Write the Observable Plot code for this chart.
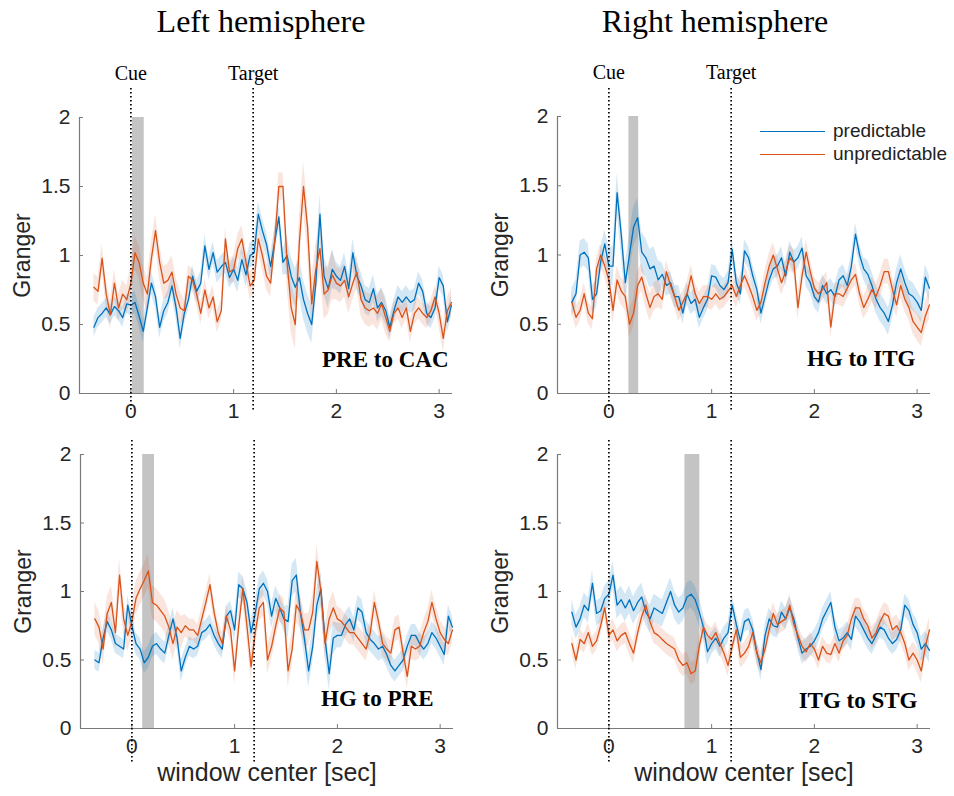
<!DOCTYPE html>
<html><head><meta charset="utf-8">
<script src="https://cdn.jsdelivr.net/npm/d3@7"></script>
<script src="https://cdn.jsdelivr.net/npm/@observablehq/plot@0.6"></script>
<style>
body{margin:0;background:#fff;}
#root{position:relative;width:954px;height:796px;overflow:hidden;background:#fff;font-family:"Liberation Sans",Arial,sans-serif;}
.panel{position:absolute;}
.title{position:absolute;top:5px;font-family:"Liberation Serif",serif;font-size:32px;line-height:1;color:#000;transform:translateX(-50%);white-space:nowrap;}
.leg{position:absolute;font-size:19px;line-height:1;color:#222;white-space:nowrap;}
.leg .sw{position:absolute;left:0;width:65px;height:0;border-top:1.3px solid;}
.leg span{position:absolute;left:73px;top:-10px;}
</style></head>
<body><div id="root"></div>
<script>
// ---- data ----
const times = d3.range(88).map(i => Math.round((-0.36 + 0.04 * i) * 100) / 100);
const xTicks = [0, 1, 2, 3];
const yTicks = [0, 0.5, 1, 1.5, 2];
const eventTimes = [0, 1.19];
const eventLabels = ["Cue", "Target"];
const seriesNames = ["predictable", "unpredictable"];
const panelNames = ["PRE to CAC", "HG to ITG", "HG to PRE", "ITG to STG"];
const hemispheres = ["Left hemisphere", "Right hemisphere"];
const sigStart = [0.015, 0.195, 0.105, 0.74];
const sigEnd = [0.13, 0.29, 0.22, 0.885];

const tlPred = [0.48,0.55,0.58,0.62,0.57,0.63,0.60,0.55,0.65,0.64,
0.66,0.56,0.45,0.62,0.80,0.70,0.48,0.60,0.66,0.78,
0.62,0.40,0.58,0.68,0.85,0.74,0.80,1.07,0.90,1.02,
0.88,0.92,0.95,0.84,0.90,0.82,0.97,0.86,1.00,1.02,
1.30,1.18,1.08,0.92,1.10,1.28,0.95,1.00,0.85,0.77,
0.84,0.68,0.58,0.50,0.80,1.30,0.85,0.76,0.90,0.85,
0.82,0.92,0.76,1.02,0.85,0.78,0.68,0.66,0.76,0.62,
0.66,0.60,0.48,0.60,0.70,0.66,0.70,0.66,0.68,0.80,
0.74,0.58,0.55,0.62,0.84,0.78,0.52,0.64];
const tlUnpred = [0.77,0.74,0.98,0.72,0.57,0.80,0.62,0.72,0.68,0.80,
1.02,0.95,0.80,0.72,0.98,1.18,0.95,0.80,0.82,0.88,
0.72,0.62,0.60,0.85,0.82,0.72,0.58,0.75,0.62,0.70,
0.52,0.60,1.12,0.88,0.90,1.05,1.12,0.95,0.78,0.82,
1.12,1.00,0.85,0.80,1.10,1.50,1.50,0.95,0.62,0.50,
1.10,1.50,1.20,0.65,0.90,1.05,0.72,0.75,0.86,0.80,
0.78,0.82,0.70,0.80,0.88,0.68,0.62,0.60,0.62,0.58,
0.65,0.55,0.45,0.58,0.62,0.55,0.62,0.45,0.58,0.62,
0.58,0.55,0.60,0.70,0.58,0.40,0.60,0.66];
const trPred = [0.66,0.72,1.00,1.02,0.98,0.68,0.72,0.95,1.08,0.92,
0.92,1.45,1.15,0.80,1.00,1.20,1.27,1.02,0.98,0.90,
0.92,0.82,0.86,0.78,0.80,0.70,0.70,0.58,0.72,0.65,
0.68,0.55,0.62,0.68,0.85,0.84,0.78,0.75,0.80,1.04,
0.80,0.72,1.03,0.98,0.85,0.75,0.58,0.70,0.82,0.90,
0.92,0.98,0.85,1.02,0.95,0.98,1.05,0.85,0.80,0.70,
0.66,0.78,0.72,0.75,0.70,0.82,0.85,0.78,0.92,1.15,
1.00,0.90,0.86,0.78,0.68,0.62,0.58,0.52,0.64,0.80,
0.90,0.80,0.72,0.70,0.66,0.60,0.84,0.76];
const trUnpred = [0.66,0.55,0.60,0.72,0.58,0.54,0.90,1.00,0.92,0.82,
0.60,0.82,0.74,0.70,0.50,0.58,0.78,0.84,0.72,0.62,
0.70,0.72,0.68,0.88,0.78,0.70,0.60,0.66,0.72,0.85,
0.72,0.65,0.70,0.70,0.68,0.72,0.68,0.70,0.74,0.78,
0.70,0.78,0.85,0.78,0.70,0.60,0.66,0.80,0.92,1.00,
0.90,0.80,0.88,0.98,0.95,0.62,0.85,1.02,0.88,0.76,
0.72,0.75,0.80,0.48,0.72,0.72,0.70,0.76,0.82,0.86,
0.72,0.62,0.68,0.75,0.70,0.78,0.88,0.88,0.75,0.64,
0.78,0.68,0.62,0.52,0.48,0.44,0.56,0.64];
const blPred = [0.50,0.48,0.66,0.78,0.72,0.62,0.60,0.58,0.90,0.75,
0.62,0.58,0.48,0.52,0.60,0.62,0.58,0.55,0.68,0.80,
0.66,0.42,0.52,0.60,0.58,0.60,0.70,0.72,0.76,0.68,
0.62,0.58,0.82,0.86,0.72,1.05,1.02,0.92,0.70,0.84,
1.02,1.06,1.00,0.82,0.95,0.88,0.80,0.78,1.08,1.12,
0.85,0.65,0.42,0.60,0.90,1.02,0.65,0.40,0.66,0.68,
0.68,0.76,0.80,0.72,0.88,0.85,0.70,0.65,0.62,0.58,
0.60,0.54,0.46,0.42,0.46,0.50,0.60,0.68,0.68,0.62,
0.58,0.62,0.70,0.66,0.60,0.54,0.82,0.74];
const blUnpred = [0.80,0.74,0.58,0.84,0.92,0.70,1.12,0.80,0.68,0.78,
0.95,1.02,1.08,1.15,0.92,0.90,0.86,0.82,0.74,0.62,
0.74,0.70,0.75,0.72,0.72,0.68,0.80,0.92,1.05,0.85,
0.70,0.62,0.82,0.72,0.42,0.75,1.02,0.75,0.45,0.70,
0.88,0.92,0.50,0.60,0.75,0.88,0.85,0.42,0.58,0.90,
0.85,0.72,0.72,0.85,1.22,1.00,0.62,0.80,0.88,0.80,
0.78,0.74,0.70,0.70,0.66,0.62,0.58,0.70,0.92,0.78,
0.62,0.58,0.55,0.72,0.74,0.55,0.38,0.60,0.58,0.60,
0.70,0.78,0.92,0.80,0.70,0.65,0.62,0.72];
const brPred = [0.85,0.74,0.80,0.90,0.86,1.06,0.84,0.86,0.95,0.98,
1.12,0.90,0.94,0.88,0.94,0.86,0.92,0.96,0.85,0.80,
0.88,0.86,0.84,0.92,1.00,0.90,0.85,0.88,0.96,0.98,
0.94,0.85,0.74,0.56,0.62,0.66,0.60,0.66,0.70,0.90,
0.76,0.64,0.78,0.80,0.72,0.56,0.43,0.68,0.80,0.75,
0.74,0.85,0.80,0.88,0.80,0.66,0.55,0.58,0.60,0.64,
0.70,0.80,0.86,0.92,0.74,0.64,0.66,0.70,0.65,0.82,
0.78,0.72,0.66,0.62,0.68,0.74,0.72,0.66,0.62,0.65,
0.72,0.90,0.86,0.76,0.70,0.58,0.62,0.57];
const brUnpred = [0.62,0.50,0.65,0.62,0.70,0.60,0.64,0.75,0.88,0.68,
0.72,0.64,0.68,0.70,0.62,0.55,0.70,0.82,0.90,0.78,
0.70,0.68,0.65,0.62,0.60,0.58,0.50,0.46,0.48,0.40,
0.42,0.60,0.74,0.68,0.65,0.70,0.62,0.55,0.46,0.60,
0.72,0.52,0.55,0.60,0.70,0.55,0.48,0.58,0.72,0.84,
0.76,0.78,0.80,0.90,0.76,0.68,0.60,0.56,0.62,0.58,
0.50,0.60,0.55,0.54,0.62,0.55,0.64,0.68,0.80,0.88,
0.88,0.80,0.75,0.66,0.70,0.78,0.84,0.82,0.72,0.75,
0.70,0.62,0.50,0.55,0.50,0.42,0.60,0.72];

// half-widths of the shaded error bands, one per half-second bin (-0.5..3.5)
const tlPredErr = [0.07,0.08,0.08,0.09,0.14,0.10,0.08,0.08];
const tlUnpredErr = [0.10,0.12,0.08,0.10,0.18,0.12,0.08,0.10];
const trPredErr = [0.10,0.14,0.08,0.08,0.08,0.08,0.10,0.09];
const trUnpredErr = [0.08,0.10,0.08,0.08,0.09,0.08,0.09,0.10];
const blPredErr = [0.07,0.08,0.07,0.09,0.12,0.09,0.08,0.08];
const blUnpredErr = [0.12,0.12,0.08,0.10,0.12,0.09,0.09,0.09];
const brPredErr = [0.09,0.10,0.10,0.08,0.08,0.08,0.08,0.09];
const brUnpredErr = [0.07,0.08,0.08,0.08,0.08,0.07,0.08,0.09];

// ---- drawing ----
const BLUE = "#0072BD", ORANGE = "#D95319";
const AXIS = "#7a7a7a";
const SERIF = "'Liberation Serif', 'Times New Roman', serif";
const xDomain = [-0.5, 3.13];
const bin = t => Math.max(0, Math.min(7, Math.floor((t + 0.5) / 0.5)));
const rowsOf = (vals, err) => times.map((t, i) => ({t, v: vals[i], lo: vals[i] - err[bin(t)], hi: vals[i] + err[bin(t)]}));

const layouts = [
  {left: 0, top: 60, width: 470, height: 370, ml: 79, mr: 18, mt: 57, mb: 37, top0: true, lx: -4, ly: -27, insT: -29, insB: -19},
  {left: 478, top: 60, width: 476, height: 370, ml: 79, mr: 24, mt: 56, mb: 37, top0: true, lx: -15, ly: -28, insT: -28, insB: -19},
  {left: 0, top: 430, width: 470, height: 366, ml: 80, mr: 17, mt: 24, mb: 68, top0: false, lx: -20, ly: -23, insT: -14, insB: -36},
  {left: 478, top: 430, width: 476, height: 366, ml: 79, mr: 24, mt: 24, mb: 68, top0: false, lx: -13, ly: -21, insT: -14, insB: -36}
];
const seriesData = [
  [tlPred, tlPredErr, tlUnpred, tlUnpredErr],
  [trPred, trPredErr, trUnpred, trUnpredErr],
  [blPred, blPredErr, blUnpred, blUnpredErr],
  [brPred, brPredErr, brUnpred, brUnpredErr]
];

const root = document.getElementById("root");

layouts.forEach((L, k) => {
  const [p, pe, u, ue] = seriesData[k];
  const pr = rowsOf(p, pe), ur = rowsOf(u, ue);
  const events = eventTimes.map((t, i) => ({t, label: eventLabels[i]}));
  const marks = [
    Plot.rect([{a: sigStart[k], b: sigEnd[k]}], {x1: "a", x2: "b", y1: 0, y2: 2, fill: "#c4c4c4"}),
    Plot.areaY(pr, {x: "t", y1: "lo", y2: "hi", fill: BLUE, fillOpacity: 0.17}),
    Plot.areaY(ur, {x: "t", y1: "lo", y2: "hi", fill: ORANGE, fillOpacity: 0.15}),
    Plot.line(pr, {x: "t", y: "v", stroke: BLUE, strokeWidth: 1.3}),
    Plot.line(ur, {x: "t", y: "v", stroke: ORANGE, strokeWidth: 1.3}),
    Plot.ruleY([0], {stroke: AXIS, strokeWidth: 1.2}),
    Plot.ruleX([xDomain[0]], {stroke: AXIS, strokeWidth: 1.2}),
    Plot.axisX({ticks: xTicks, tickSize: -4, tickPadding: 14, stroke: AXIS, tickFormat: d => String(d), fontSize: 21, fill: "#262626", label: null}),
    Plot.axisY({ticks: yTicks, tickSize: -4, tickPadding: 13, stroke: AXIS, tickFormat: d => String(d), fontSize: 21, fill: "#262626", label: null}),
    Plot.ruleX(events, {x: "t", stroke: "#000", strokeWidth: 1.7, strokeDasharray: "1.5,2.5", insetTop: L.insT, insetBottom: L.insB}),
    Plot.text(["Granger"], {frameAnchor: "left", textAnchor: "middle", lineAnchor: "middle", rotate: -90, dx: -57, fontSize: 23, fill: "#262626"}),
    Plot.text([panelNames[k]], {frameAnchor: "bottom-right", textAnchor: "end", dx: L.lx, dy: L.ly, fontFamily: SERIF, fontWeight: "bold", fontSize: 23, fill: "#000"})
  ];
  if (L.top0) {
    marks.push(Plot.text(events, {x: "t", text: "label", frameAnchor: "top", dy: -52, fontFamily: SERIF, fontSize: 20, fill: "#000"}));
  } else {
    marks.push(Plot.text(["window center [sec]"], {frameAnchor: "bottom", dy: 52, fontSize: 25, fill: "#262626"}));
  }
  const chart = Plot.plot({
    width: L.width, height: L.height,
    marginLeft: L.ml, marginRight: L.mr, marginTop: L.mt, marginBottom: L.mb,
    x: {domain: xDomain},
    y: {domain: [0, 2]},
    style: {fontFamily: "'Liberation Sans', Arial, sans-serif", fontSize: "21px", color: "#262626", background: "transparent", overflow: "visible"},
    marks
  });
  const div = document.createElement("div");
  div.className = "panel";
  div.style.left = L.left + "px";
  div.style.top = L.top + "px";
  div.appendChild(chart);
  root.appendChild(div);
});

// hemisphere titles
[261, 715].forEach((cx, i) => {
  const d = document.createElement("div");
  d.className = "title";
  d.style.left = cx + "px";
  d.textContent = hemispheres[i];
  root.appendChild(d);
});

// legend (top-right panel)
const legColors = [BLUE, ORANGE];
seriesNames.forEach((name, i) => {
  const d = document.createElement("div");
  d.className = "leg";
  d.style.left = "760px";
  d.style.top = (131 + 23 * i) + "px";
  const sw = document.createElement("div");
  sw.className = "sw";
  sw.style.borderTopColor = legColors[i];
  const s = document.createElement("span");
  s.textContent = name;
  d.appendChild(sw); d.appendChild(s);
  root.appendChild(d);
});
</script>
</body></html>
